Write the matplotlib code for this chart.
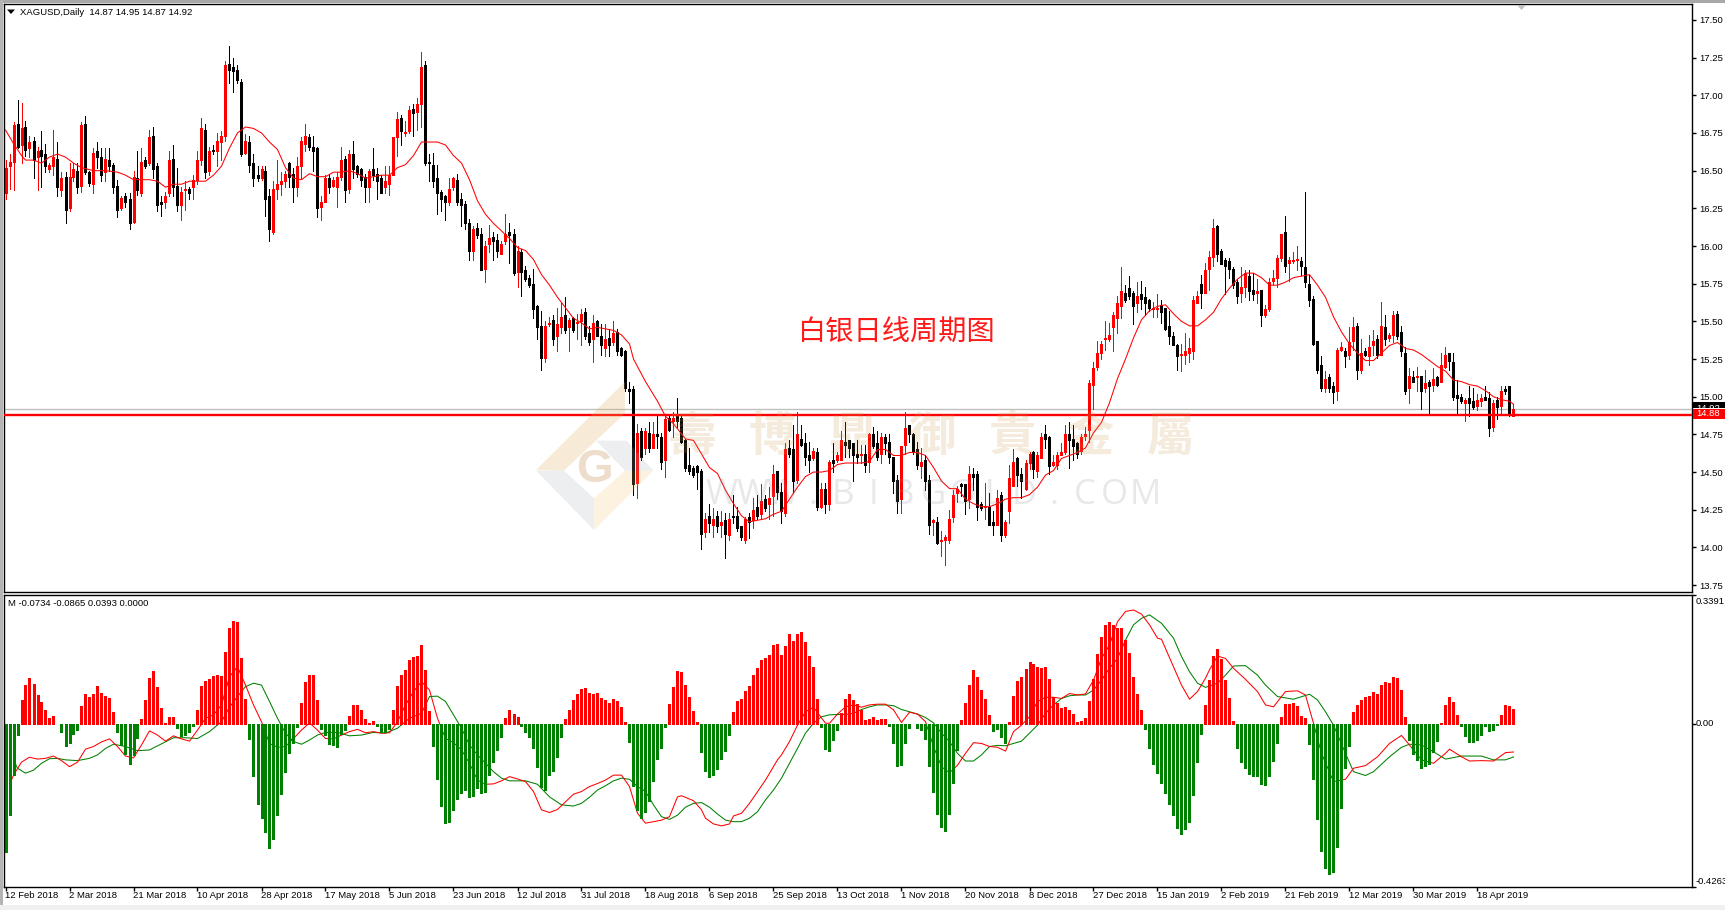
import matplotlib
matplotlib.use("Agg")
import matplotlib.pyplot as plt
import numpy as np
from matplotlib.patches import Polygon, Rectangle

W, H = 1725, 910
UI_FONT = ["Liberation Sans", "DejaVu Sans"]
CJK_SC = ["Noto Sans CJK SC", "DejaVu Sans"]
CJK_TC = ["Noto Sans CJK TC", "DejaVu Sans"]
LABEL_SIZE = 6.8
PX = 0.72  # one device pixel in points at 100 dpi

# Daily XAGUSD quotes as (open, high, low, close)
bars_feb_apr_2018 = [
    (16.35,16.57,16.31,16.52),(16.53,16.61,16.38,16.56),(16.56,16.82,16.37,16.80),(16.81,16.97,16.65,16.66),
    (16.67,16.95,16.55,16.78),(16.79,16.83,16.60,16.64),(16.65,16.73,16.59,16.69),(16.70,16.72,16.45,16.57),
    (16.59,16.66,16.37,16.63),(16.64,16.76,16.39,16.60),(16.61,16.68,16.49,16.53),(16.51,16.55,16.49,16.54),
    (16.53,16.77,16.47,16.59),(16.58,16.69,16.33,16.39),(16.37,16.49,16.33,16.45),(16.46,16.49,16.15,16.24),
    (16.25,16.55,16.23,16.46),(16.46,16.55,16.43,16.51),(16.50,16.55,16.35,16.39),(16.40,16.82,16.36,16.80),
    (16.81,16.86,16.48,16.49),(16.49,16.50,16.40,16.42),(16.41,16.65,16.35,16.62),(16.63,16.69,16.52,16.59),
    (16.59,16.65,16.43,16.47),(16.49,16.65,16.43,16.58),(16.57,16.65,16.50,16.53),(16.54,16.55,16.35,16.39),
    (16.40,16.44,16.19,16.24),(16.25,16.33,16.24,16.32),(16.33,16.35,16.26,16.29),(16.31,16.35,16.11,16.15),
    (16.16,16.50,16.15,16.46),(16.45,16.63,16.34,16.37),(16.35,16.65,16.33,16.56),(16.57,16.59,16.52,16.53),
    (16.55,16.77,16.54,16.72),(16.73,16.79,16.45,16.51),(16.53,16.55,16.23,16.27),(16.29,16.33,16.20,16.28),
    (16.29,16.36,16.25,16.33),(16.35,16.63,16.33,16.57),(16.58,16.67,16.33,16.39),(16.40,16.52,16.23,16.27),
    (16.27,16.39,16.17,16.36),(16.37,16.43,16.24,16.37),(16.38,16.39,16.31,16.35),(16.39,16.47,16.31,16.44),
    (16.44,16.63,16.41,16.57),(16.57,16.85,16.54,16.78),(16.77,16.81,16.45,16.49),(16.50,16.66,16.47,16.63),
    (16.64,16.67,16.61,16.63),(16.63,16.75,16.53,16.70),(16.69,16.76,16.57,16.73),(16.73,17.23,16.70,17.20),
    (17.21,17.33,17.08,17.17),(17.19,17.25,17.02,17.16),(17.17,17.20,17.08,17.10),(17.09,17.11,16.60,16.61),
]
bars_apr_jun_2018 = [
    (16.62,16.74,16.61,16.70),(16.69,16.73,16.49,16.54),(16.55,16.61,16.40,16.45),(16.47,16.53,16.43,16.45),
    (16.45,16.53,16.44,16.51),(16.50,16.53,16.20,16.31),(16.33,16.38,16.03,16.11),(16.09,16.43,16.08,16.38),
    (16.38,16.57,16.31,16.41),(16.41,16.49,16.34,16.43),(16.43,16.50,16.39,16.48),(16.55,16.56,16.39,16.46),
    (16.48,16.52,16.29,16.39),(16.39,16.59,16.33,16.53),(16.53,16.72,16.45,16.70),(16.68,16.81,16.63,16.73),
    (16.72,16.74,16.64,16.66),(16.66,16.73,16.50,16.63),(16.65,16.66,16.19,16.25),(16.26,16.33,16.17,16.29),
    (16.29,16.47,16.29,16.45),(16.45,16.48,16.35,16.39),(16.40,16.46,16.39,16.44),(16.39,16.49,16.26,16.46),
    (16.46,16.66,16.44,16.57),(16.58,16.60,16.29,16.37),(16.38,16.64,16.35,16.61),(16.61,16.70,16.45,16.51),
    (16.53,16.54,16.46,16.48),(16.51,16.52,16.40,16.44),(16.46,16.48,16.29,16.39),(16.39,16.51,16.29,16.50),
    (16.51,16.65,16.44,16.47),(16.48,16.52,16.31,16.43),(16.45,16.47,16.35,16.35),(16.39,16.53,16.35,16.43),
    (16.41,16.53,16.34,16.47),(16.47,16.72,16.47,16.72),(16.72,16.89,16.60,16.84),(16.85,16.87,16.67,16.76),
    (16.75,16.83,16.73,16.75),(16.76,16.93,16.75,16.90),(16.91,16.94,16.73,16.88),(16.89,16.98,16.77,16.94),
    (16.94,17.29,16.79,17.19),(17.20,17.23,16.54,16.55),
]
bars_jun_aug_2018 = [
    (16.56,16.61,16.43,16.55),(16.54,16.62,16.39,16.43),(16.45,16.54,16.21,16.35),(16.36,16.37,16.23,16.31),
    (16.33,16.34,16.17,16.29),(16.29,16.45,16.27,16.38),(16.39,16.46,16.37,16.45),(16.44,16.48,16.27,16.29),
    (16.31,16.35,16.13,16.27),(16.28,16.30,16.11,16.15),(16.15,16.18,15.91,15.97),(15.97,16.13,15.91,16.11),
    (16.12,16.15,16.05,16.07),(16.08,16.12,15.84,15.84),(15.85,16.03,15.76,16.00),(16.01,16.14,15.96,16.05),
    (16.06,16.09,15.91,16.03),(16.04,16.08,15.93,15.97),(15.95,16.03,15.95,16.01),(16.03,16.21,16.01,16.08),
    (16.09,16.15,15.89,16.07),(16.08,16.11,15.81,15.82),(15.83,16.00,15.73,15.97),(15.96,15.98,15.67,15.83),
    (15.84,15.87,15.77,15.78),(15.79,15.81,15.73,15.74),(15.75,15.85,15.52,15.58),(15.60,15.61,15.38,15.46),
    (15.47,15.57,15.18,15.26),(15.26,15.50,15.23,15.47),(15.48,15.53,15.47,15.48),(15.51,15.54,15.34,15.38),
    (15.40,15.59,15.30,15.48),(15.46,15.62,15.42,15.53),(15.54,15.66,15.42,15.44),(15.46,15.52,15.30,15.51),
    (15.52,15.53,15.43,15.44),(15.49,15.55,15.38,15.49),(15.50,15.58,15.34,15.55),(15.56,15.59,15.38,15.40),
    (15.42,15.47,15.34,15.36),(15.38,15.54,15.23,15.49),(15.50,15.51,15.40,15.40),(15.40,15.48,15.28,15.34),
    (15.32,15.48,15.27,15.38),(15.39,15.45,15.27,15.34),(15.36,15.50,15.34,15.42),(15.43,15.45,15.28,15.30),
    (15.32,15.33,15.27,15.28),
]
bars_aug_oct_2018 = [
    (15.30,15.31,15.04,15.06),(15.05,15.10,14.96,15.04),(15.05,15.07,14.35,14.42),(14.43,14.82,14.33,14.76),
    (14.77,14.79,14.58,14.60),(14.66,14.79,14.62,14.77),(14.76,14.83,14.63,14.66),(14.66,14.83,14.66,14.75),
    (14.75,14.87,14.66,14.74),(14.73,14.76,14.52,14.57),(14.58,14.87,14.47,14.85),(14.86,14.87,14.77,14.78),
    (14.84,14.90,14.73,14.86),(14.87,14.99,14.80,14.84),(14.86,14.87,14.69,14.70),(14.71,14.72,14.51,14.53),
    (14.55,14.66,14.49,14.51),(14.53,14.54,14.47,14.48),(14.54,14.55,14.39,14.50),(14.51,14.52,13.99,14.09),
    (14.10,14.23,14.07,14.19),(14.21,14.29,14.10,14.16),(14.15,14.26,14.07,14.19),(14.21,14.24,14.10,14.14),
    (14.15,14.24,14.07,14.17),(14.18,14.23,13.93,14.09),(14.08,14.23,14.05,14.19),(14.21,14.35,14.16,14.20),
    (14.21,14.27,14.11,14.13),(14.14,14.14,14.05,14.07),(14.05,14.20,14.03,14.19),(14.20,14.23,14.06,14.17),
    (14.18,14.33,14.13,14.25),(14.27,14.35,14.19,14.21),(14.22,14.42,14.19,14.31),(14.32,14.35,14.24,14.26),
    (14.29,14.40,14.19,14.33),(14.34,14.55,14.21,14.49),(14.51,14.51,14.32,14.37),(14.37,14.43,14.16,14.24),
    (14.23,14.69,14.21,14.65),(14.66,14.71,14.60,14.62),(14.65,14.81,14.36,14.44),(14.45,14.90,14.43,14.75),
    (14.72,14.81,14.67,14.68),(14.69,14.76,14.55,14.60),(14.61,14.70,14.50,14.58),(14.59,14.66,14.58,14.64),
    (14.63,14.66,14.25,14.27),(14.27,14.43,14.26,14.39),(14.39,14.43,14.23,14.29),(14.29,14.58,14.25,14.57),
    (14.58,14.69,14.50,14.56),(14.58,14.63,14.57,14.61),(14.58,14.77,14.58,14.71),(14.70,14.83,14.60,14.68),
    (14.71,14.71,14.60,14.66),(14.69,14.69,14.44,14.61),(14.62,14.71,14.56,14.60),
]
bars_oct_dec_2018 = [
    (14.61,14.68,14.56,14.61),(14.62,14.68,14.50,14.55),(14.57,14.76,14.50,14.75),(14.75,14.80,14.66,14.67),
    (14.69,14.77,14.58,14.60),(14.62,14.76,14.56,14.73),(14.73,14.75,14.62,14.69),(14.70,14.75,14.56,14.60),
    (14.60,14.60,14.36,14.44),(14.45,14.48,14.23,14.31),(14.32,14.67,14.23,14.67),(14.68,14.90,14.62,14.79),
    (14.81,14.81,14.70,14.75),(14.75,14.76,14.62,14.64),(14.65,14.70,14.52,14.55),(14.54,14.66,14.46,14.57),
    (14.58,14.61,14.38,14.44),(14.45,14.48,14.09,14.15),(14.17,14.19,14.08,14.18),(14.17,14.20,14.02,14.03),
    (14.04,14.11,13.94,14.04),(14.05,14.08,13.88,14.07),(14.05,14.25,14.03,14.19),(14.20,14.38,14.17,14.35),
    (14.36,14.41,14.30,14.39),(14.42,14.43,14.34,14.41),(14.42,14.42,14.22,14.31),(14.32,14.54,14.26,14.49),
    (14.49,14.53,14.38,14.47),(14.49,14.51,14.18,14.27),(14.29,14.30,14.25,14.26),(14.27,14.43,14.19,14.27),
    (14.27,14.36,14.15,14.15),(14.17,14.24,14.08,14.15),(14.15,14.38,14.15,14.33),(14.35,14.37,14.04,14.08),
    (14.08,14.18,14.07,14.17),(14.24,14.55,14.16,14.46),(14.41,14.65,14.41,14.57),(14.59,14.60,14.41,14.48),
    (14.49,14.53,14.33,14.44),(14.39,14.58,14.38,14.56),(14.56,14.63,14.52,14.62),(14.63,14.64,14.46,14.52),
    (14.51,14.63,14.47,14.61),(14.59,14.76,14.59,14.73),(14.75,14.81,14.66,14.72),(14.73,14.74,14.49,14.54),
    (14.55,14.61,14.54,14.57),(14.55,14.63,14.52,14.61),(14.61,14.69,14.61,14.63),(14.63,14.81,14.62,14.75),
    (14.75,14.83,14.53,14.71),(14.72,14.81,14.58,14.67),(14.69,14.70,14.59,14.62),(14.64,14.75,14.62,14.73),
    (14.74,14.80,14.71,14.75),
]
bars_dec_2018_feb_2019 = [
    (14.78,15.11,14.70,15.09),(15.08,15.23,14.92,15.19),(15.20,15.37,15.18,15.29),(15.29,15.37,15.25,15.35),
    (15.38,15.50,15.31,15.38),(15.38,15.49,15.37,15.41),(15.46,15.56,15.30,15.54),(15.52,15.67,15.42,15.62),
    (15.60,15.86,15.52,15.70),(15.69,15.74,15.63,15.64),(15.72,15.80,15.65,15.67),(15.69,15.70,15.48,15.60),
    (15.62,15.76,15.56,15.67),(15.68,15.77,15.58,15.65),(15.66,15.73,15.54,15.62),(15.64,15.65,15.57,15.59),
    (15.58,15.63,15.53,15.59),(15.58,15.68,15.53,15.59),(15.61,15.64,15.49,15.56),(15.59,15.59,15.44,15.45),
    (15.47,15.57,15.35,15.40),(15.40,15.43,15.34,15.34),(15.34,15.35,15.18,15.27),(15.28,15.35,15.17,15.28),
    (15.28,15.42,15.22,15.30),(15.29,15.39,15.23,15.32),(15.30,15.67,15.25,15.64),(15.62,15.70,15.62,15.67),
    (15.75,15.81,15.59,15.69),(15.69,15.89,15.69,15.84),(15.85,15.97,15.71,15.93),(15.93,16.18,15.87,16.12),
    (16.13,16.14,15.90,15.95),(15.97,15.98,15.88,15.88),(15.91,15.92,15.68,15.87),(15.90,15.92,15.79,15.85),
    (15.85,15.86,15.72,15.74),(15.76,15.78,15.62,15.67),(15.69,15.86,15.63,15.73),(15.73,15.84,15.66,15.82),
    (15.80,15.84,15.64,15.70),(15.71,15.82,15.64,15.68),(15.69,15.78,15.62,15.70),(15.71,15.71,15.47,15.54),
    (15.54,15.61,15.53,15.58),(15.58,15.79,15.57,15.76),(15.77,15.84,15.75,15.79),(15.79,15.94,15.73,15.92),
    (15.92,16.08,15.90,16.08),(16.09,16.20,15.83,15.87),(15.89,15.93,15.77,15.91),
]
bars_feb_apr_2019 = [
    (15.90,15.96,15.89,15.90),(15.91,16.00,15.84,15.91),(15.90,15.93,15.81,15.87),(15.86,16.36,15.73,15.76),
    (15.75,15.81,15.60,15.64),(15.65,15.67,15.34,15.35),(15.37,15.37,15.16,15.18),(15.21,15.27,15.04,15.06),
    (15.06,15.17,15.03,15.12),(15.13,15.15,15.03,15.06),(15.07,15.10,14.96,15.03),(15.04,15.32,14.98,15.31),
    (15.31,15.36,15.30,15.33),(15.30,15.32,15.20,15.27),(15.28,15.46,15.25,15.36),(15.37,15.53,15.31,15.46),
    (15.47,15.49,15.12,15.18),(15.18,15.38,15.16,15.29),(15.30,15.32,15.27,15.28),(15.27,15.41,15.21,15.33),
    (15.34,15.44,15.28,15.37),(15.38,15.41,15.26,15.28),(15.28,15.63,15.28,15.47),(15.46,15.54,15.34,15.38),
    (15.39,15.42,15.37,15.41),(15.41,15.57,15.36,15.54),(15.55,15.57,15.38,15.40),(15.43,15.47,15.27,15.30),
    (15.29,15.33,15.02,15.04),(15.06,15.19,14.96,15.14),(15.13,15.17,15.10,15.10),(15.13,15.20,15.04,15.13),
    (15.14,15.14,14.92,15.04),(15.06,15.18,15.03,15.09),(15.10,15.11,14.88,15.07),(15.08,15.19,15.04,15.12),
    (15.13,15.14,15.07,15.08),(15.10,15.29,15.10,15.21),(15.20,15.33,15.19,15.28),(15.29,15.29,15.18,15.24),
    (15.23,15.29,14.98,15.00),(15.01,15.11,14.88,14.99),(15.00,15.02,14.96,14.97),(14.96,14.99,14.84,14.98),
    (14.99,15.07,14.87,14.96),(14.97,15.06,14.92,14.93),(14.94,15.02,14.91,14.98),(14.97,15.02,14.94,14.99),
    (15.00,15.07,14.98,14.98),(14.99,15.03,14.74,14.79),(14.80,14.98,14.77,14.96),(14.98,15.00,14.85,14.93),
    (14.94,15.07,14.89,15.04),(15.05,15.07,15.02,15.04),(15.07,15.07,14.87,14.88),(14.87,14.95,14.87,14.92),
]

# Moving average on the price chart as (bar number, price)
ma_line = [
    (0,16.77),(2,16.68),(4,16.60),(5,16.57),(7,16.57),(9,16.55),(11,16.59),(13,16.61),(15,16.59),(17,16.55),
    (19,16.52),(22,16.50),(25,16.50),(28,16.49),(30,16.47),(32,16.44),(34,16.44),(36,16.44),(38,16.43),(40,16.39),
    (42,16.41),(44,16.41),(46,16.43),(48,16.43),(50,16.43),(52,16.47),(54,16.53),(56,16.65),(58,16.75),(60,16.79),
    (62,16.78),(64,16.75),(66,16.69),(68,16.64),(70,16.52),(72,16.45),(74,16.44),(76,16.48),(78,16.46),(80,16.46),
    (82,16.49),(84,16.49),(86,16.50),(88,16.48),(90,16.45),(92,16.46),(94,16.47),(96,16.47),(98,16.52),(100,16.54),
    (102,16.60),(104,16.69),(105,16.69),(108,16.69),(110,16.67),(112,16.60),(114,16.55),(116,16.44),(118,16.30),
    (120,16.21),(122,16.15),(124,16.10),(126,16.05),(128,15.99),(130,15.97),(132,15.91),(134,15.81),(136,15.74),
    (138,15.66),(140,15.59),(142,15.52),(144,15.49),(146,15.45),(148,15.46),(150,15.45),(152,15.44),(154,15.41),
    (155,15.38),(156,15.35),(157,15.25),(160,15.10),(163,14.97),(165,14.87),(167,14.82),(170,14.72),(172,14.71),
    (174,14.62),(176,14.53),(178,14.49),(180,14.38),(182,14.29),(184,14.21),(186,14.17),(188,14.18),(190,14.19),
    (192,14.22),(194,14.24),(196,14.32),(198,14.40),(200,14.47),(202,14.50),(204,14.50),(206,14.51),(208,14.55),
    (210,14.56),(212,14.56),(214,14.56),(216,14.57),(218,14.65),(220,14.65),(222,14.61),(224,14.61),(226,14.63),
    (228,14.63),(230,14.61),(232,14.53),(234,14.44),(236,14.39),(238,14.39),(240,14.32),(242,14.29),(244,14.27),
    (246,14.27),(248,14.29),(250,14.32),(252,14.33),(254,14.33),(256,14.35),(258,14.40),(260,14.48),(262,14.51),
    (264,14.59),(266,14.61),(268,14.63),(270,14.66),(272,14.76),(274,14.83),(276,14.96),(278,15.12),(280,15.25),
    (282,15.39),(284,15.51),(286,15.57),(288,15.60),(290,15.61),(292,15.55),(294,15.50),(296,15.47),(298,15.47),
    (300,15.51),(302,15.56),(304,15.65),(306,15.72),(308,15.78),(310,15.82),(312,15.82),(314,15.79),(316,15.74),
    (318,15.74),(320,15.76),(322,15.79),(324,15.80),(326,15.81),(328,15.74),(330,15.66),(332,15.53),(334,15.43),
    (336,15.35),(338,15.29),(340,15.24),(342,15.24),(344,15.29),(346,15.34),(348,15.36),(350,15.32),(352,15.31),
    (354,15.28),(356,15.24),(358,15.20),(360,15.17),(362,15.11),(364,15.10),(366,15.08),(368,15.07),(370,15.04),
    (372,15.00),(374,14.98),(376,14.97),(377,14.95),
]

# Oscillator histogram, one value per bar
hist_part1 = [
    -.335,-.239,-.134,-.029,.063,.102,.121,.105,.076,.058,.037,.016,.021,.001,-.021,-.058,-.050,-.026,-.016,.047,
    .079,.071,.079,.100,.081,.073,.068,.031,-.021,-.055,-.079,-.105,-.081,-.037,.013,.063,.121,.139,.097,.042,
    .002,.018,.018,-.010,-.031,-.029,-.021,-.005,.037,.100,.113,.118,.126,.128,.126,.189,.252,.270,.267,.173,
    .066,-.039,-.136,-.210,-.246,-.283,-.325,-.302,-.239,-.184,-.126,-.076,-.050,-.008,.055,.110,.128,.128,.063,-.013,
    -.029,-.052,-.055,-.060,-.026,-.016,.021,.050,.050,.037,.013,.002,.008,-.005,-.021,-.021,-.013,.037,.100,.128,
]
hist_part2 = [
    .142,.168,.176,.178,.207,.142,.034,-.058,-.144,-.215,-.260,-.257,-.225,-.197,-.181,-.173,-.191,-.189,-.169,-.181,
    -.178,-.134,-.100,-.068,-.034,.016,.037,.026,.018,-.005,-.021,-.034,-.063,-.113,-.165,-.173,-.134,-.123,-.087,-.034,
    .013,.037,.063,.079,.092,.094,.081,.079,.081,.068,.063,.055,.066,.060,.045,.005,-.047,-.162,-.225,-.246,
    -.231,-.202,-.149,-.092,-.063,-.008,.052,.097,.139,.136,.102,.071,.034,.005,-.073,-.123,-.139,-.134,-.118,-.092,
    -.071,-.029,.031,.060,.066,.087,.100,.128,.147,.168,.173,.181,.207,.210,.181,.205,.236,.218,.236,.241,
]
hist_part3 = [
    .215,.178,.149,.066,-.008,-.066,-.071,-.042,-.016,.029,.066,.079,.063,.052,.037,.010,.013,.018,.010,.013,
    .013,-.005,-.050,-.110,-.108,-.050,-.010,.001,-.010,-.016,-.039,-.110,-.178,-.236,-.270,-.281,-.236,-.155,-.068,.010,
    .055,.102,.142,.123,.089,.066,.024,-.018,-.013,-.034,-.050,.005,.073,.113,.123,.144,.163,.157,.149,.147,
    .149,.118,.071,.055,.042,.045,.037,.026,.005,.008,.016,.060,.118,.184,.228,.260,.267,.260,.252,.252,
    .220,.186,.123,.079,.037,-.013,-.063,-.105,-.128,-.155,-.181,-.210,-.239,-.273,-.288,-.275,-.257,-.186,-.100,-.026,
]
hist_part4 = [
    .050,.115,.178,.197,.170,.115,.068,.008,-.063,-.100,-.115,-.131,-.136,-.136,-.157,-.160,-.136,-.097,-.050,.018,
    .052,.052,.055,.047,.021,.016,-.052,-.144,-.249,-.333,-.378,-.393,-.388,-.323,-.220,-.115,-.058,.031,.050,.063,
    .071,.073,.084,.079,.102,.110,.107,.123,.121,.089,.018,-.042,-.079,-.094,-.115,-.110,-.105,-.073,-.045,.002,
    .050,.071,.058,.024,-.004,-.031,-.047,-.047,-.042,-.029,-.004,-.018,-.016,-.003,.024,.050,.047,.039,
]

# Fast and slow oscillator lines as (bar number, value)
fast_line = [
    (1,-.160),(2,-.134),(4,-.100),(6,-.087),(8,-.092),(10,-.090),(12,-.084),(14,-.096),(16,-.112),(18,-.100),
    (20,-.066),(22,-.059),(24,-.047),(26,-.039),(28,-.059),(30,-.084),(32,-.089),(34,-.055),(36,-.018),(38,-.029),
    (40,-.045),(42,-.031),(44,-.039),(46,-.045),(48,-.016),(50,.015),(52,.024),(54,.050),(56,.124),(58,.150),
    (60,.102),(62,.050),(64,.006),(66,-.051),(68,-.061),(70,-.059),(72,-.038),(74,-.016),(76,.003),(78,-.016),
    (80,-.038),(82,-.039),(84,-.029),(86,-.020),(88,-.014),(90,-.023),(92,-.020),(94,-.024),(96,-.023),(98,.006),
    (100,.050),(102,.085),(104,.111),(106,.089),(108,.015),(110,-.038),(112,-.049),(114,-.068),(116,-.103),(118,-.147),
    (120,-.158),(122,-.157),(124,-.149),(126,-.138),(128,-.144),(130,-.151),(132,-.177),(134,-.225),(136,-.232),(138,-.224),
    (140,-.204),(142,-.184),(144,-.177),(146,-.164),(148,-.156),(150,-.147),(152,-.134),(154,-.134),(156,-.164),(158,-.234),
    (160,-.260),(162,-.256),(164,-.252),(166,-.243),(168,-.191),(169,-.188),(172,-.201),(174,-.225),(175,-.247),(177,-.262),
    (179,-.267),(181,-.262),(182,-.241),(184,-.234),(186,-.208),(190,-.147),(193,-.094),(194,-.081),(196,-.046),(198,-.003),
    (200,.032),(202,.044),(205,.002),(206,.002),(208,.026),(210,.045),(212,.050),(214,.044),(216,.050),(218,.052),
    (220,.052),(222,.037),(224,.004),(226,.031),(228,.026),(230,.006),(232,-.059),(234,-.112),(236,-.128),(238,-.108),
    (240,-.077),(242,-.049),(244,-.051),(246,-.059),(248,-.061),(250,-.071),(252,-.020),(254,-.003),(256,.019),(258,.059),
    (260,.070),(262,.070),(264,.067),(266,.080),(268,.076),(270,.079),(272,.115),(274,.172),(276,.207),(278,.268),
    (280,.295),(282,.299),(284,.288),(286,.260),(288,.225),(289,.222),(292,.150),(294,.102),(296,.065),(298,.085),
    (300,.120),(301,.142),(303,.178),(305,.172),(307,.146),(310,.117),(313,.085),(315,.050),(317,.045),(319,.072),
    (320,.085),(323,.087),(325,.076),(327,.002),(329,-.077),(332,-.151),(335,-.145),(337,-.116),(340,-.109),(343,-.086),
    (346,-.051),(349,-.030),(351,-.055),(354,-.094),(357,-.103),(360,-.077),(361,-.066),(364,-.086),(366,-.097),(369,-.096),
    (372,-.097),(373,-.090),(375,-.075),(377,-.0734),
]
slow_line = [
    (2,-.094),(3,-.116),(5,-.129),(7,-.121),(9,-.103),(11,-.091),(13,-.090),(15,-.094),(18,-.096),(21,-.090),
    (23,-.081),(25,-.064),(27,-.053),(30,-.059),(33,-.070),(36,-.068),(39,-.052),(42,-.036),(45,-.036),(48,-.038),
    (51,-.020),(54,.006),(56,.044),(58,.072),(60,.098),(62,.107),(64,.102),(66,.059),(68,.015),(70,-.024),
    (72,-.046),(74,-.053),(76,-.042),(78,-.029),(80,-.022),(83,-.022),(86,-.031),(89,-.029),(92,-.022),(95,-.024),
    (98,-.011),(101,.015),(104,.028),(106,.072),(108,.073),(110,.059),(112,.024),(114,-.011),(116,-.055),(118,-.081),
    (120,-.103),(122,-.125),(124,-.142),(126,-.149),(130,-.149),(133,-.158),(136,-.191),(139,-.212),(142,-.215),(144,-.208),
    (146,-.192),(148,-.173),(150,-.162),(152,-.149),(154,-.142),(156,-.145),(158,-.164),(160,-.177),(162,-.212),(164,-.243),
    (166,-.250),(168,-.239),(170,-.218),(172,-.208),(174,-.206),(176,-.218),(178,-.236),(180,-.252),(182,-.256),(184,-.256),
    (186,-.247),(188,-.230),(190,-.199),(192,-.173),(194,-.142),(196,-.103),(198,-.064),(200,-.024),(202,.002),(204,.019),
    (206,.024),(208,.025),(210,.025),(212,.028),(214,.038),(216,.045),(218,.050),(220,.050),(222,.048),(224,.038),
    (226,.032),(228,.026),(230,.017),(232,.003),(234,-.024),(236,-.046),(238,-.077),(240,-.097),(242,-.097),(244,-.081),
    (246,-.059),(248,-.056),(250,-.057),(252,-.051),(254,-.045),(256,-.024),(258,-.003),(260,.028),(262,.050),(264,.067),
    (266,.074),(268,.076),(270,.076),(272,.089),(274,.115),(276,.146),(278,.172),(280,.220),(282,.260),(284,.277),
    (286,.286),(289,.264),(292,.225),(294,.177),(296,.137),(298,.107),(300,.096),(303,.107),(305,.128),(307,.152),
    (310,.153),(313,.128),(315,.102),(318,.072),(322,.065),(326,.078),(328,.063),(330,.032),(332,-.003),(335,-.077),
    (337,-.125),(340,-.135),(342,-.125),(346,-.086),(349,-.061),(351,-.053),(354,-.055),(357,-.073),(360,-.092),(364,-.084),
    (369,-.084),(372,-.094),(375,-.094),(377,-.0865),
]

date_labels = [
    "12 Feb 2018", "2 Mar 2018", "21 Mar 2018", "10 Apr 2018", "28 Apr 2018", "17 May 2018",
    "5 Jun 2018", "23 Jun 2018", "12 Jul 2018", "31 Jul 2018", "18 Aug 2018", "6 Sep 2018",
    "25 Sep 2018", "13 Oct 2018", "1 Nov 2018", "20 Nov 2018", "8 Dec 2018", "27 Dec 2018",
    "15 Jan 2019", "2 Feb 2019", "21 Feb 2019", "12 Mar 2019", "30 Mar 2019", "18 Apr 2019",
]
price_ticks = [13.75, 14.00, 14.25, 14.50, 14.75, 15.00, 15.25, 15.50, 15.75, 16.00,
               16.25, 16.50, 16.75, 17.00, 17.25, 17.50]
hline_gray = 14.92
hline_red = 14.88

quotes = (bars_feb_apr_2018 + bars_apr_jun_2018 + bars_jun_aug_2018 + bars_aug_oct_2018
          + bars_oct_dec_2018 + bars_dec_2018_feb_2019 + bars_feb_apr_2019)
opens, highs, lows, closes = (np.array(c) for c in zip(*quotes))
hist = np.array(hist_part1 + hist_part2 + hist_part3 + hist_part4)
idx = np.arange(len(opens))


def fx(px):
    return px / W


def fy(py):
    return 1 - py / H


def panel(left, top, right, bottom):
    return fig.add_axes([fx(left), fy(bottom), (right - left) / W, (bottom - top) / H])


fig = plt.figure(figsize=(W / 100, H / 100), dpi=100, facecolor="white")

# Window chrome around the chart area
for x0, y0, x1, y1, col in [(0, 0, W, 3, "#a8a8a8"), (0, 0, 3, H, "#b4b4b4"), (0, 905, W, 910, "#f0f0f0")]:
    fig.add_artist(Rectangle((fx(x0), fy(y1)), (x1 - x0) / W, (y1 - y0) / H,
                             transform=fig.transFigure, fc=col, ec="none", zorder=-1))

ax = panel(4, 4, 1692, 592)
sub = panel(4, 594.5, 1692, 887)
XLIM = ((4 - 5.5) / 4, (1692 - 5.5) / 4)
for a in (ax, sub):
    a.set_xlim(*XLIM)
    a.set_facecolor("white")
    for s in a.spines.values():
        s.set_linewidth(1.0)
        s.set_color("black")
ax.set_ylim(15 - (592 - 396.7) / 150.7, 15 + (396.7 - 4) / 150.7)
sub.set_ylim(-(887 - 724) / 381.5, (724 - 594.5) / 381.5)

# Candles: one-pixel wicks under three-pixel bodies; flat bodies keep a minimum height
FLAT_BODY = 1.0 / 150.7
up = closes >= opens
for mask, col in [(up, "#ff0000"), (~up, "#000000")]:
    ax.vlines(idx[mask], lows[mask], highs[mask], colors=col, lw=PX, antialiased=False, zorder=2)
    bot = np.minimum(opens, closes)[mask]
    top = np.maximum(np.maximum(opens, closes)[mask], bot + FLAT_BODY)
    bodies = ax.vlines(idx[mask], bot, top, colors=col, lw=3 * PX, antialiased=False, zorder=2.1)
    bodies.set_capstyle("butt")

ma_x, ma_y = zip(*ma_line)
ax.plot(ma_x, ma_y, color="#ff0000", lw=0.75, zorder=3)

ax.axhline(hline_gray, color="#c0c0c0", lw=1.0, zorder=1.5)
ax.axhline(hline_red, color="#ff0000", lw=1.7, zorder=4)

# Oscillator pane: lines sit behind the histogram columns
fast_x, fast_y = zip(*fast_line)
slow_x, slow_y = zip(*slow_line)
sub.plot(slow_x, slow_y, color="#008000", lw=0.75, zorder=1)
sub.plot(fast_x, fast_y, color="#ff0000", lw=0.75, zorder=1)
colors = np.where(hist >= 0, "#ff0000", "#008000")
columns = sub.vlines(idx, 0, hist, colors=colors, lw=3 * PX, antialiased=False, zorder=2)
columns.set_capstyle("butt")

# Right-hand scales
ax.set_yticks(price_ticks)
ax.set_yticklabels([f"{v:.2f}" for v in price_ticks], fontsize=LABEL_SIZE, family=UI_FONT)
ax.yaxis.tick_right()
ax.tick_params(axis="y", length=3, width=1, pad=2.5, direction="out", color="black")
ax.set_xticks([])

sub.yaxis.tick_right()
sub.set_yticks([0.3391, 0.0, -0.4263])
sub.set_yticklabels([])
sub.tick_params(axis="y", length=3, width=1, direction="out", color="black")
for val, py in [("0.3391", 602), ("0.00", 724), ("-0.4263", 881)]:
    fig.text(fx(1696), fy(py), val, fontsize=LABEL_SIZE, family=UI_FONT, va="center", ha="left", color="black")

# Date scale below the lower pane
sub.set_xticks(np.arange(len(date_labels)) * 16)
sub.set_xticklabels([])
sub.tick_params(axis="x", length=3, width=1, direction="out", color="black")
for k, label in enumerate(date_labels):
    fig.text(fx(5 + 16 * 4 * k), fy(896), label, fontsize=LABEL_SIZE, family=UI_FONT, va="center", ha="left", color="black")

# Pane captions
fig.add_artist(Polygon([(fx(7), fy(9.5)), (fx(15), fy(9.5)), (fx(11), fy(14))],
                       transform=fig.transFigure, fc="black", ec="none"))
fig.text(fx(20), fy(12.5), "XAGUSD,Daily  14.87 14.95 14.87 14.92", fontsize=LABEL_SIZE, family=UI_FONT,
         va="center", ha="left", color="black")
fig.text(fx(8.5), fy(603), "M -0.0734 -0.0865 0.0393 0.0000", fontsize=LABEL_SIZE, family=UI_FONT,
         va="center", ha="left", color="black")
fig.add_artist(Polygon([(fx(1517), fy(5)), (fx(1526), fy(5)), (fx(1521.5), fy(10))],
                       transform=fig.transFigure, fc="#c0c0c0", ec="none"))

# Current-price tags on the scale; the red tag overlaps the black one
fig.add_artist(Rectangle((fx(1693), fy(408.5)), (W - 1693) / W, 6 / H, transform=fig.transFigure,
                         fc="black", ec="none", zorder=5))
fig.text(fx(1696), fy(408.6), "14.92", fontsize=LABEL_SIZE, family=UI_FONT, va="center", ha="left",
         color="white", zorder=5.2)
fig.add_artist(Rectangle((fx(1693), fy(419)), (W - 1693) / W, 10.5 / H, transform=fig.transFigure,
                         fc="#ff0000", ec="none", zorder=5.5))
fig.text(fx(1696), fy(413.8), "14.88", fontsize=LABEL_SIZE, family=UI_FONT, va="center", ha="left", color="white", zorder=6)

# Chart heading
fig.text(fx(897), fy(333), "白银日线周期图", fontsize=20.3, family=CJK_SC, color="#ff1a1a", ha="center", va="center")


# Logo and site name laid over the price pane
def logo_poly(points, col, alpha):
    pts = [(fx(430 + x / 3), fy(200 + y / 3)) for x, y in points]
    fig.add_artist(Polygon(pts, transform=fig.transFigure, fc=col, ec="none", alpha=alpha, zorder=4.5))


logo_poly([(318, 810), (585, 545), (585, 640), (402, 812)], "#e0b060", 0.25)
logo_poly([(318, 812), (402, 812), (492, 895), (492, 990)], "#a8adb8", 0.2)
logo_poly([(498, 722), (590, 722), (670, 812), (585, 812)], "#a8adb8", 0.2)
logo_poly([(492, 895), (585, 812), (670, 812), (492, 990)], "#f0c060", 0.2)
fig.text(fx(594), fy(470), "G", fontsize=34, fontweight="bold", family=UI_FONT, color="#c89050",
         alpha=0.3, ha="center", va="center", zorder=4.6)

for ch, px in zip("壽博鼎御貴金屬", [692, 772, 852, 932, 1012, 1090, 1170]):
    fig.text(fx(px), fy(437), ch, fontsize=34, fontweight="bold", family=CJK_TC,
             color=(205 / 255, 155 / 255, 85 / 255), alpha=0.2, ha="center", va="center", zorder=4.6)
for k, ch in enumerate("WWW.BIBGOLD.COM"):
    fig.text(fx(722 + k * 30.2), fy(495), ch, fontsize=25, family=["Open Sans", "DejaVu Sans"], color="#8a8f98",
             alpha=0.2, ha="center", va="center", zorder=4.6)

fig.savefig("out.png", dpi=100, facecolor=fig.get_facecolor())
